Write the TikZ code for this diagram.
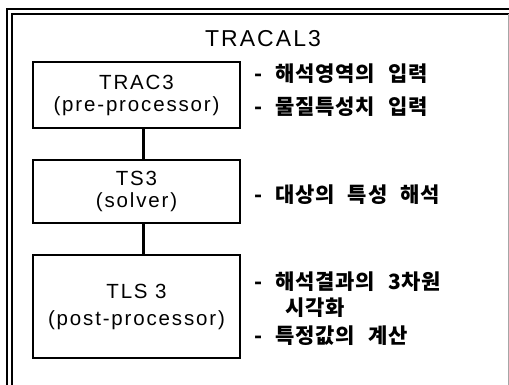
\documentclass[tikz,border=0pt]{standalone}
\usepackage{fontspec}
\setmainfont{Liberation Sans}[LetterSpace=9]
\newfontfamily\kor{Noto Sans CJK KR}[WordSpace=2.3,LetterSpace=4]
\usetikzlibrary{calc}

\tikzset{
  module/.style={draw,line width=2.2pt,minimum width=207pt,align=center,inner sep=0pt},
  note/.style={anchor=west,inner sep=0pt,font=\kor\bfseries\fontsize{21}{26}\selectfont},
  link/.style={line width=2.2pt},
  frame/.style={line width=1.3pt}
}

\begin{document}
\begin{tikzpicture}[x=1pt,y=-1pt]
\useasboundingbox (0,0) rectangle (509,385);

% outer frame
\draw[frame] (7,385) -- (7,9) -- (509,9);
\draw[frame] (12,385) -- (12,14) -- (509,14);
\draw[gray!70,thin] (508,14) -- (508,385);

% title
\node (title) at (263,38.5) {\fontsize{23}{28}\selectfont TRACAL3};

% modules
\node[module,minimum height=66pt,font=\fontsize{20.5}{22}\selectfont] (pre) at (136.5,95) {TRAC3\\(pre-processor)};
\node[module,minimum height=63pt,font=\fontsize{20.5}{22}\selectfont] (solver) at (136.5,191.5) {TS3\\(solver)};
\node[module,minimum height=103pt,font=\fontsize{20.5}{27}\selectfont] (post) at (136.5,306.5) {TLS 3\\(post-processor)};

\draw[link] ([xshift=7pt]pre.south) -- ([xshift=7pt]solver.north);
\draw[link] ([xshift=7pt]solver.south) -- ([xshift=7pt]post.north);

% notes
\node[note] (n1) at (254,74) {- 해석영역의 입력};
\node[note] (n2) at (254,107) {- 물질특성치 입력};
\node[note] (n3) at (254,195) {- 대상의 특성 해석};
\node[note] (n4) at (254,282) {- 해석결과의 3차원};
\node[note] (n5) at (285,308) {시각화};
\node[note] (n6) at (254,336) {- 특정값의 계산};
\end{tikzpicture}
\end{document}
